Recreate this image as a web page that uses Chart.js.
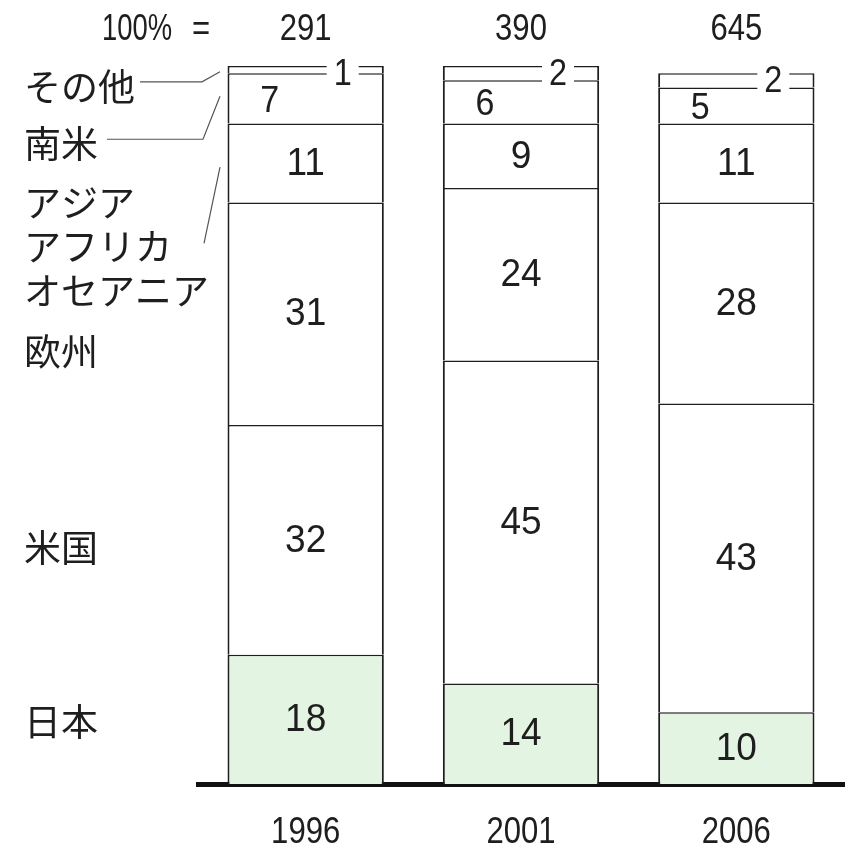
<!DOCTYPE html>
<html>
<head>
<meta charset="utf-8">
<script src="https://cdn.jsdelivr.net/npm/chart.js@4.4.0/dist/chart.umd.min.js"></script>
<style>
  html, body { margin: 0; padding: 0; background: #fff; }
  #wrap { width: 845px; height: 852px; }
</style>
</head>
<body>
<div id="wrap"><canvas id="chart" width="845" height="852"></canvas></div>
<script>
// shares by region (%), bottom to top
var years = ['1996', '2001', '2006']
var totals = [291, 390, 645]
var regions = ['日本', '米国', '欧州', 'アジア\nアフリカ\nオセアニア', '南米', 'その他']
var japan = [18, 14, 10]
var usa = [32, 45, 43]
var europe = [31, 24, 28]
var asia = [11, 9, 11]
var samerica = [7, 6, 5]
var other = [1, 2, 2]

var series = [japan, usa, europe, asia, samerica, other]
var SANS = '"Liberation Sans", Arial, sans-serif'
var JP = '"Noto Sans CJK JP", sans-serif'

var datasets = []
for (let i in series) {
  datasets.push({
    label: regions[i].replace(/\n/g, ' '),
    data: series[i],
    backgroundColor: i == 0 ? '#e4f4e2' : '#ffffff',
    borderColor: '#1e1e1e',
    borderWidth: {left: 2, right: 2, top: 1.5, bottom: 0},
    borderSkipped: false,
    barPercentage: 0.726,
    categoryPercentage: 1
  })
}

// Liberation Sans squeezed sideways
function narrow(ctx, text, x, y, size, sx) {
  ctx.save()
  ctx.translate(x, y)
  ctx.scale(sx || 0.84, 1)
  ctx.font = size + 'px ' + SANS
  ctx.fillText(text, 0, 0)
  ctx.restore()
}

// value labels, totals row, years and the region names with leader lines
var annotations = {
  id: 'annotations',
  afterDraw(chart) {
    var ctx = chart.ctx
    var y = chart.scales.y
    var x = chart.scales.x
    var area = chart.chartArea
    ctx.save()
    ctx.fillStyle = '#1e1e1e'
    ctx.textAlign = 'center'
    ctx.textBaseline = 'middle'

    var last = datasets.length - 1
    for (let i in datasets) {
      var meta = chart.getDatasetMeta(i)
      meta.data.forEach(function (bar, j) {
        var val = datasets[i].data[j]
        var cy = (bar.y + bar.base) / 2
        if (i == last) {
          // tiny top slice: number sits on its own lines
          var lx = bar.x + 37
          ctx.fillStyle = '#fff'
          ctx.fillRect(lx - 16, bar.y - 5, 32, 26)
          ctx.fillStyle = '#1e1e1e'
          narrow(ctx, val, lx, bar.y + 9, 36, 0.9)
        } else if (i == last - 1) {
          narrow(ctx, val, bar.x - 36, cy + 3, 37, 0.92)
        } else {
          narrow(ctx, val, bar.x, cy + 1, 39, 0.95)
        }
      })
    }

    // totals and years
    years.forEach(function (yr, j) {
      var cx = x.getPixelForValue(j)
      narrow(ctx, totals[j], cx, 30, 37)
      narrow(ctx, yr, cx, 833, 37)
    })
    ctx.textAlign = 'left'
    narrow(ctx, '100%', 102, 30, 37, 0.74)
    narrow(ctx, '=', 192, 30, 37, 0.84)

    // region names
    var at = [8.6, 32.9, 60.2, 80.9, 89.1, 97.1]
    ctx.font = '37px ' + JP
    for (let i in regions) {
      var lines = regions[i].split('\n')
      var ty = y.getPixelForValue(at[i])
      for (let k in lines) {
        ctx.fillText(lines[k], 24, ty + k * 44)
      }
    }

    // leader lines
    ctx.strokeStyle = '#555'
    ctx.lineWidth = 1.2
    var ex = area.left + 22
    ctx.beginPath()
    var yo = y.getPixelForValue(97.8)
    ctx.moveTo(140, yo)
    ctx.lineTo(202, yo)
    ctx.lineTo(ex, y.getPixelForValue(99.2))
    var ys = y.getPixelForValue(89.8)
    ctx.moveTo(107, ys)
    ctx.lineTo(203, ys)
    ctx.lineTo(ex, y.getPixelForValue(95.8))
    ctx.moveTo(204, y.getPixelForValue(75.3))
    ctx.lineTo(ex, y.getPixelForValue(85.9))
    ctx.stroke()
    ctx.restore()
  }
}

new Chart(document.getElementById('chart'), {
  type: 'bar',
  data: {labels: years, datasets: datasets},
  options: {
    responsive: false,
    animation: false,
    devicePixelRatio: 1,
    layout: {padding: {left: 198, top: 66, right: 1, bottom: 68}},
    plugins: {legend: {display: false}, tooltip: {enabled: false}},
    scales: {
      x: {
        stacked: true,
        grid: {display: false, drawTicks: false},
        border: {display: true, width: 5, color: '#111'},
        ticks: {display: false}
      },
      y: {stacked: true, display: false, min: 0, max: 100}
    }
  },
  plugins: [annotations]
})
</script>
</body>
</html>
